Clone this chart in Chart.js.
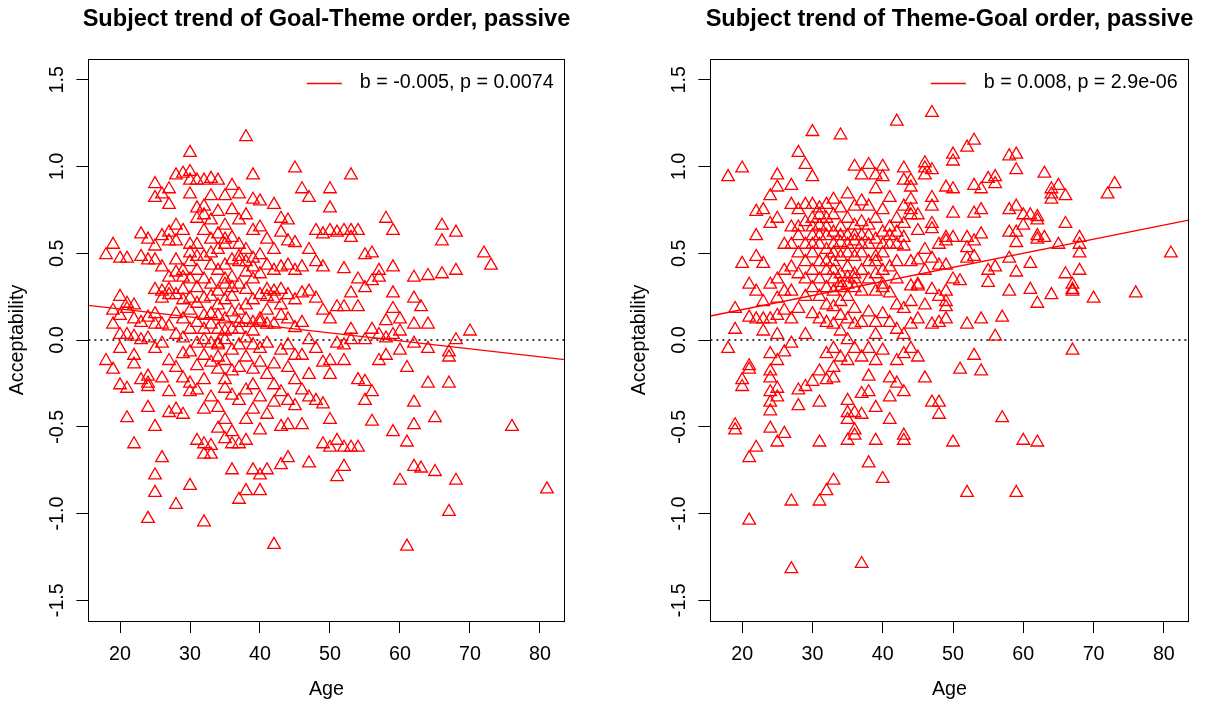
<!DOCTYPE html>
<html>
<head>
<meta charset="utf-8">
<script src="https://cdn.jsdelivr.net/npm/chart.js@4.4.1/dist/chart.umd.min.js"></script>
<style>
  html, body { margin: 0; padding: 0; background: #fff; overflow: hidden; }
  .panel { position: absolute; top: 0; }
</style>
</head>
<body>
<canvas id="goalTheme" class="panel" width="607" height="707" style="left:0px"></canvas>
<canvas id="themeGoal" class="panel" width="607" height="707" style="left:607px"></canvas>
<script>
// axes
const xTicks = [20, 30, 40, 50, 60, 70, 80];
const yTicks = [-1.5, -1.0, -0.5, 0, 0.5, 1.0, 1.5];
const xRange = [15.48, 83.52];
const yRange = [-1.62, 1.62];

// Goal-Theme order: one list of acceptability values per age
const gtAges = [18, 19, 20, 21, 22, 23, 24, 25, 26, 27, 28, 29, 30, 31, 32, 33, 34, 35, 36, 37, 38, 39, 40,
  41, 42, 43, 44, 45, 46, 47, 48, 49, 50, 51, 52, 53, 54, 55, 56, 57, 58, 59, 60, 61, 62, 63, 64, 65, 66, 67, 68,
  70, 72, 73, 76, 81];
const gtValues = [
  [0.49, -0.12],
  [0.55, 0.17, 0.09, -0.17],
  [0.47, 0.25, 0.14, 0.03, -0.26, -0.05],
  [0.47, 0.21, 0.03, -0.28, -0.45, 0.18],
  [0.2, 0.12, -0.09, -0.14, -0.6, 0.02],
  [0.61, 0.48, 0.0, -0.23, 0.1],
  [0.58, 0.46, 0.13, 0.01, -0.21, -0.27, -0.39, -1.03, -0.25],
  [0.9, 0.82, 0.54, 0.46, 0.29, 0.09, -0.05, -0.5, -0.78, -0.88, 0.15],
  [0.84, 0.6, 0.24, 0.28, 0.09, -0.02, -0.22, -0.68, 0.42],
  [0.87, 0.78, 0.62, 0.57, 0.36, 0.29, 0.26, 0.08, -0.12, -0.42, -0.3],
  [0.95, 0.66, 0.57, 0.46, 0.39, 0.26, 0.03, -0.16, -0.4, -0.95, 0.15],
  [0.96, 0.63, 0.4, 0.36, 0.29, 0.23, 0.01, -0.22, -0.43, 0.12, -0.08],
  [1.08, 0.97, 0.92, 0.84, 0.55, 0.45, 0.35, 0.24, 0.17, 0.06, -0.07, -0.25, -0.84, 0.5, -0.3],
  [0.92, 0.76, 0.7, 0.55, 0.4, 0.21, 0.1, -0.02, -0.15, -0.29, -0.58, 0.3, 0.48],
  [0.92, 0.77, 0.63, 0.48, 0.35, 0.24, 0.14, 0.06, -0.09, -0.23, -0.4, -0.6, -1.05, 0.72, 0.0, -0.66],
  [0.93, 0.83, 0.69, 0.58, 0.43, 0.32, 0.25, 0.09, -0.02, -0.13, -0.33, -0.61, -0.66, 0.5, 0.15],
  [0.92, 0.74, 0.61, 0.52, 0.4, 0.28, 0.14, 0.06, -0.03, -0.17, -0.39, -0.51, 0.2, -0.02, -0.1],
  [0.83, 0.66, 0.55, 0.43, 0.32, 0.23, 0.12, 0.0, -0.12, -0.23, -0.46, -0.57, 0.58, 0.35, -0.28, 0.05],
  [0.89, 0.75, 0.59, 0.46, 0.36, 0.25, 0.16, 0.06, -0.06, -0.18, -0.32, -0.53, -0.75, 0.3, -0.6],
  [0.84, 0.69, 0.55, 0.45, 0.32, 0.17, 0.06, -0.03, -0.16, -0.35, -0.6, -0.92, 0.48, 0.1],
  [1.17, 0.72, 0.52, 0.39, 0.29, 0.12, 0.01, -0.1, -0.29, -0.46, -0.58, -0.87, 0.45, 0.2],
  [0.95, 0.81, 0.63, 0.47, 0.35, 0.23, 0.1, -0.03, -0.17, -0.26, -0.4, -0.75, 0.42, 0.05],
  [0.8, 0.65, 0.49, 0.38, 0.26, 0.12, -0.05, -0.13, -0.33, -0.52, -0.78, -0.87, 0.1],
  [0.58, 0.43, 0.29, 0.17, 0.09, -0.02, -0.2, -0.43, -0.75, 0.25],
  [0.78, 0.52, 0.4, 0.24, 0.09, -0.14, -0.26, -0.36, -1.18, 0.28],
  [0.7, 0.62, 0.42, 0.29, 0.14, -0.06, -0.3, -0.5, -0.72, 0.2],
  [0.69, 0.57, 0.43, 0.26, 0.12, -0.03, -0.16, -0.35, -0.49, -0.68],
  [0.99, 0.56, 0.4, 0.23, 0.07, -0.09, -0.23, -0.38],
  [0.87, 0.42, 0.27, 0.1, -0.09, -0.29, -0.49],
  [0.82, 0.52, 0.28, 0.0, -0.2, -0.33, -0.71],
  [0.63, 0.45, 0.24, -0.05, -0.35],
  [0.61, 0.42, 0.17, -0.13, -0.37, -0.6],
  [0.87, 0.76, 0.63, 0.12, -0.12, -0.2, -0.46, -0.62],
  [0.62, 0.19, -0.02, -0.58, -0.79],
  [0.63, 0.41, 0.19, -0.03, -0.12, -0.62, -0.73],
  [0.95, 0.63, 0.59, 0.27, 0.06, 0.0, -0.62],
  [0.63, 0.35, 0.19, -0.23, -0.62],
  [0.49, 0.3, 0.0, -0.24, -0.35],
  [0.5, 0.34, 0.06, -0.3, -0.47],
  [0.4, 0.36, 0.03, -0.12],
  [0.7, 0.11, 0.01, -0.09],
  [0.63, 0.42, 0.27, 0.18, 0.03, -0.53],
  [0.12, 0.05, -0.06, -0.81],
  [-0.16, -0.59, -1.19],
  [0.36, 0.24, 0.09, -0.02, -0.36, -0.49, -0.73],
  [0.19, -0.74],
  [0.37, 0.09, -0.05, -0.25],
  [-0.45, -0.76],
  [0.66, 0.57, 0.38],
  [-0.07, -0.1, -0.25, -0.99],
  [0.62, 0.4, 0.0, -0.81],
  [0.05],
  [0.5],
  [0.43],
  [-0.5],
  [-0.86]
];
const gtFit = { intercept: 0.271, slope: -0.0046 };
const gtLabel = 'b = -0.005, p = 0.0074';

// Theme-Goal order
const tgAges = [18, 19, 20, 21, 22, 23, 24, 25, 26, 27, 28, 29, 30, 31, 32, 33, 34, 35, 36, 37, 38, 39, 40,
  41, 42, 43, 44, 45, 46, 47, 48, 49, 50, 51, 52, 53, 54, 55, 56, 57, 58, 59, 60, 61, 62, 63, 64, 65, 66, 67, 68,
  70, 72, 73, 76, 81];
const tgValues = [
  [0.94, -0.05],
  [0.18, 0.06, -0.49, -0.52],
  [0.99, 0.44, -0.23, -0.27],
  [0.32, 0.13, -0.15, -0.17, -0.68, -1.04],
  [0.74, 0.6, 0.48, 0.28, 0.12, -0.62],
  [0.75, 0.44, 0.12, 0.05, 0.22],
  [0.83, 0.67, 0.32, 0.12, -0.08, -0.18, -0.22, -0.3, -0.36, -0.41, -0.51],
  [0.95, 0.88, 0.7, 0.24, 0.14, 0.03, -0.12, -0.28, -0.33, -0.59, 0.35],
  [0.28, 0.17, -0.07, -0.54, 0.55, 0.4],
  [0.89, 0.78, 0.65, 0.55, 0.28, 0.12, -0.02, -0.93, -1.32, 0.42],
  [1.08, 0.75, 0.6, 0.5, 0.38, 0.18, -0.29, -0.38, 0.65],
  [1.01, 0.78, 0.68, 0.45, 0.25, 0.03, -0.27, 0.55, 0.35],
  [1.2, 0.94, 0.78, 0.7, 0.6, 0.5, 0.4, 0.3, 0.15, -0.24, 0.65, 0.55],
  [0.76, 0.66, 0.55, 0.45, 0.35, 0.25, 0.12, -0.18, -0.36, -0.59, -0.93, 0.6, 0.72],
  [0.78, 0.7, 0.6, 0.52, 0.4, 0.3, 0.2, 0.1, -0.08, -0.23, -0.87, 0.65, 0.45],
  [0.81, 0.72, 0.62, 0.55, 0.45, 0.35, 0.28, 0.19, 0.09, -0.05, -0.16, -0.22, -0.81, 0.5, 0.4],
  [1.18, 0.76, 0.65, 0.56, 0.48, 0.38, 0.3, 0.22, 0.14, 0.05, -0.1, 0.6, 0.33],
  [0.84, 0.7, 0.6, 0.5, 0.42, 0.32, 0.25, 0.12, 0.0, -0.12, -0.35, -0.42, -0.46, -0.58, 0.55, 0.36],
  [1.0, 0.77, 0.66, 0.57, 0.48, 0.38, 0.3, 0.18, 0.09, -0.05, -0.42, -0.52, -0.55, 0.6, 0.35],
  [0.95, 0.8, 0.68, 0.6, 0.5, 0.4, 0.28, 0.1, -0.1, -0.31, -0.43, -1.29, 0.55],
  [1.01, 0.77, 0.66, 0.55, 0.45, 0.35, 0.16, -0.05, -0.21, -0.3, -0.71, 0.6],
  [0.95, 0.87, 0.7, 0.58, 0.48, 0.38, 0.28, 0.1, 0.03, -0.12, -0.39, -0.58, 0.45],
  [1.0, 0.94, 0.75, 0.62, 0.5, 0.4, 0.32, 0.3, 0.15, -0.06, -0.8, 0.55],
  [0.82, 0.65, 0.55, 0.42, 0.27, 0.1, -0.22, -0.33, -0.46, 0.6],
  [1.26, 0.7, 0.55, 0.45, 0.35, 0.2, 0.06, -0.12, -0.25, 0.62],
  [0.99, 0.92, 0.77, 0.67, 0.59, 0.54, 0.18, 0.03, -0.08, -0.3, -0.55, -0.58],
  [0.92, 0.88, 0.81, 0.75, 0.72, 0.31, 0.22, 0.09, -0.05, 0.45],
  [0.72, 0.63, 0.46, 0.32, 0.31, 0.12, -0.1],
  [1.02, 0.99, 0.95, 0.52, 0.4, -0.22, 0.2],
  [1.31, 0.98, 0.82, 0.77, 0.67, 0.64, 0.47, 0.29, 0.09, -0.36],
  [0.55, 0.43, 0.25, -0.36, -0.43, 0.1],
  [0.88, 0.59, 0.57, 0.43, 0.28, 0.22, 0.19, 0.12],
  [1.07, 1.03, 0.73, 0.59, 0.35, -0.59, 0.87],
  [0.34, -0.17],
  [1.11, 0.59, 0.53, 0.47, 0.09, -0.88],
  [1.15, 0.89, 0.73, 0.57, 0.48, -0.09],
  [0.87, 0.75, 0.61, 0.12, -0.18],
  [0.93, 0.4, 0.33],
  [0.94, 0.9, 0.42, 0.02],
  [0.13, -0.45],
  [1.06, 0.75, 0.62, 0.47, 0.28],
  [1.07, 0.98, 0.77, 0.62, 0.56, 0.39, -0.88],
  [0.72, 0.66, -0.58],
  [0.72, 0.44, 0.29],
  [0.71, 0.69, 0.6, 0.58, 0.21, -0.59],
  [0.96, 0.59],
  [0.87, 0.84, 0.81, 0.26],
  [0.89, 0.55],
  [0.83, 0.67, 0.38],
  [0.32, 0.29, 0.28, -0.06],
  [0.59, 0.55, 0.5, 0.4],
  [0.24],
  [0.84],
  [0.9],
  [0.27],
  [0.5]
];
const tgFit = { intercept: 0.0125, slope: 0.00813 };
const tgLabel = 'b = 0.008, p = 2.9e-06';

Chart.defaults.font.family = '"Liberation Sans", Arial, Helvetica, sans-serif';
Chart.defaults.color = '#000';

function toPoints(ages, values) {
  const pts = [];
  ages.forEach((age, i) => values[i].forEach(v => pts.push({ x: age, y: v })));
  return pts;
}

function makeChart(id, title, ages, values, fit, fitLabel, padLeft, padRight) {
  // box, main title and legend the way R's plot() draws them
  const rFrame = {
    id: 'rFrame',
    afterDraw(chart) {
      const ctx = chart.ctx;
      const a = chart.chartArea;
      ctx.save();
      ctx.strokeStyle = '#000';
      ctx.lineWidth = 1;
      ctx.strokeRect(Math.round(a.left) + 0.5, Math.round(a.top) + 0.5,
        Math.round(a.right - a.left), Math.round(a.bottom - a.top));

      ctx.fillStyle = '#000';
      ctx.font = 'bold 23.6px "Liberation Sans", Arial, sans-serif';
      ctx.textAlign = 'center';
      ctx.textBaseline = 'middle';
      ctx.fillText(title, (a.left + a.right) / 2, 19);

      ctx.font = '19.7px "Liberation Sans", Arial, sans-serif';
      ctx.textAlign = 'right';
      const tx = a.right - 11;
      const ty = a.top + 24;
      ctx.fillText(fitLabel, tx, ty);
      const w = ctx.measureText(fitLabel).width;
      ctx.strokeStyle = '#ff0000';
      ctx.lineWidth = 1.3;
      ctx.beginPath();
      ctx.moveTo(tx - w - 53, Math.round(ty) + 0.5);
      ctx.lineTo(tx - w - 18, Math.round(ty) + 0.5);
      ctx.stroke();
      ctx.restore();
    }
  };

  return new Chart(document.getElementById(id), {
    type: 'scatter',
    data: {
      datasets: [
        {
          data: toPoints(ages, values),
          pointStyle: 'triangle',
          pointRadius: 7.3,
          pointHoverRadius: 7.3,
          pointBorderColor: '#ff0000',
          pointBackgroundColor: 'rgba(0,0,0,0)',
          pointBorderWidth: 1.3
        },
        {
          type: 'line',
          data: xRange.map(x => ({ x: x, y: fit.intercept + fit.slope * x })),
          borderColor: '#ff0000',
          borderWidth: 1.3,
          pointRadius: 0,
          fill: false
        },
        {
          type: 'line',
          data: xRange.map(x => ({ x: x, y: 0 })),
          borderColor: '#000',
          borderWidth: 1.6,
          borderDash: [2, 4],
          pointRadius: 0,
          fill: false
        }
      ]
    },
    options: {
      responsive: false,
      animation: false,
      events: [],
      devicePixelRatio: 1,
      layout: { padding: { top: 59, left: padLeft, right: padRight, bottom: 0 } },
      plugins: { legend: { display: false }, tooltip: { enabled: false } },
      scales: {
        x: {
          type: 'linear',
          min: xRange[0],
          max: xRange[1],
          afterBuildTicks: s => { s.ticks = xTicks.map(v => ({ value: v })); },
          ticks: { font: { size: 19.7 }, padding: 10.2, autoSkip: false, maxRotation: 0, callback: v => String(v) },
          grid: { display: true, drawOnChartArea: false, drawTicks: true, tickLength: 12, color: '#000', lineWidth: 1 },
          border: { display: true, color: '#000', width: 1 },
          title: { display: true, text: 'Age', font: { size: 19.7 }, padding: { top: 1.1, bottom: 5.2 } }
        },
        y: {
          type: 'linear',
          min: yRange[0],
          max: yRange[1],
          afterBuildTicks: s => { s.ticks = yTicks.map(v => ({ value: v })); },
          ticks: { font: { size: 19.7 }, padding: 2, autoSkip: false, minRotation: 90, maxRotation: 90,
            crossAlign: 'center', callback: v => v.toFixed(1) },
          grid: { display: true, drawOnChartArea: false, drawTicks: true, tickLength: 12, color: '#000', lineWidth: 1 },
          border: { display: true, color: '#000', width: 1 },
          title: { display: true, text: 'Acceptability', font: { size: 19.7 }, padding: { top: 6, bottom: 19.1 } }
        }
      }
    },
    plugins: [rFrame]
  });
}

makeChart('goalTheme', 'Subject trend of Goal-Theme order, passive', gtAges, gtValues, gtFit, gtLabel, 0, 42.4);
makeChart('themeGoal', 'Subject trend of Theme-Goal order, passive', tgAges, tgValues, tgFit, tgLabel, 15, 25.4);
</script>
</body>
</html>
